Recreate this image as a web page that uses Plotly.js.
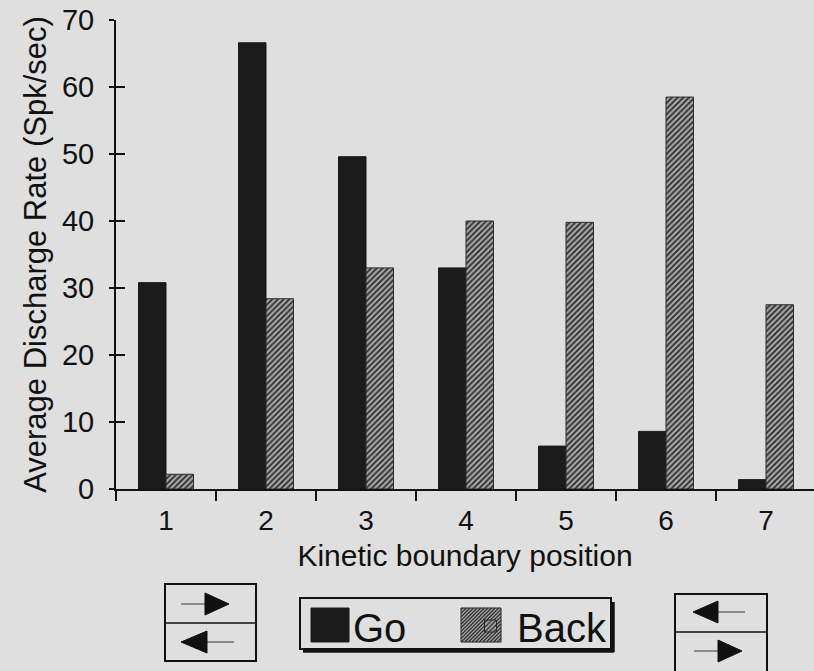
<!DOCTYPE html>
<html><head><meta charset="utf-8">
<script src="https://cdn.plot.ly/plotly-3.0.1.min.js"></script>
<style>html,body{margin:0;padding:0;background:#dfdfdf;}#chart{width:814px;height:671px;}</style>
</head><body><div id="chart"></div>
<script>
const positions = ['1','2','3','4','5','6','7'];
const goValues = [30.8, 66.6, 49.6, 33.0, 6.4, 8.6, 1.4];
const backValues = [2.2, 28.4, 33.0, 40.0, 39.8, 58.5, 27.5];
const seriesNames = ['Go', 'Back'];
const yTicks = [0, 10, 20, 30, 40, 50, 60, 70];

const W = 814, H = 671, ML = 116, MR = 0, MT = 20, MB = 182;
const PW = W - ML - MR, PH = H - MT - MB;
const X = px => (px - ML) / PW;
const Y = py => (H - MB - py) / PH;

const FONT = 'Liberation Sans, Arial, sans-serif';
const GO_COLOR = '#1b1b1b';

const traces = [
  { type: 'bar', name: seriesNames[0], x: positions, y: goValues,
    marker: { color: GO_COLOR, line: { color: GO_COLOR, width: 1 } } },
  { type: 'bar', name: seriesNames[1], x: positions, y: backValues,
    marker: { color: '#8a8a8a', line: { color: '#2a2a2a', width: 1 },
      pattern: { shape: '/', fgcolor: '#2a2a2a', bgcolor: '#a8a8a8', size: 4, solidity: 0.45 } } },
  { type: 'scatter', x: [], y: [], yaxis: 'y2', showlegend: false, hoverinfo: 'skip' }
];

function tri(x1, x2, yc, h, dir) {
  const tip = dir > 0 ? x2 : x1, base = dir > 0 ? x1 : x2;
  return `M${X(base)},${Y(yc - h/2)} L${X(tip)},${Y(yc)} L${X(base)},${Y(yc + h/2)} Z`;
}
function rect(x0, y0, x1, y1, w, fill, lc) {
  return { type: 'rect', xref: 'paper', yref: 'paper', x0: X(x0), x1: X(x1), y0: Y(y1), y1: Y(y0),
    line: { color: lc || '#111', width: w }, fillcolor: fill || 'rgba(0,0,0,0)' };
}
function line(x0, y0, x1, y1, w, c) {
  return { type: 'line', xref: 'paper', yref: 'paper', x0: X(x0), x1: X(x1), y0: Y(y0), y1: Y(y1),
    line: { color: c || '#111', width: w } };
}
function path(d) {
  return { type: 'path', xref: 'paper', yref: 'paper', path: d, fillcolor: '#111', line: { color: '#111', width: 1 } };
}
function hatch(x0, y0, x1, y1, step) {
  let d = '';
  for (let c = x0 + y0 + step / 2; c < x1 + y1; c += step) {
    const xa = Math.max(x0, c - y1), xb = Math.min(x1, c - y0);
    if (xb <= xa) continue;
    d += `M${X(xa)},${Y(c - xa)} L${X(xb)},${Y(c - xb)} `;
  }
  return { type: 'path', xref: 'paper', yref: 'paper', path: d, line: { color: '#333', width: 1.3 } };
}

const shapes = [
  // left direction box
  rect(165, 584, 256, 661, 2),
  line(165, 623, 256, 623, 1.5),
  line(181, 604, 205, 604, 1.2, '#555'),
  path(tri(205, 229, 604, 22, 1)),
  line(207, 642, 234, 642, 1.2, '#555'),
  path(tri(181, 207, 642, 22, -1)),
  // right direction box
  rect(675, 594, 767, 672, 2),
  line(675, 632, 767, 632, 1.5),
  line(718, 612, 745, 612, 1.2, '#555'),
  path(tri(693, 718, 612, 22, -1)),
  line(694, 651, 718, 651, 1.2, '#555'),
  path(tri(718, 742, 651, 22, 1)),
  // legend frame with drop shadow
  line(303, 651, 614, 651, 3.5),
  line(613, 602, 613, 652, 3.5),
  rect(300, 598, 611, 649, 2),
  // enlarged legend keys
  rect(311, 608, 349, 642, 1, GO_COLOR, GO_COLOR),
  rect(461, 608, 501, 642, 1, '#a6a6a6', '#222'),
  hatch(461, 608, 501, 642, 3.6)
];

const layout = {
  width: W, height: H,
  margin: { l: ML, r: MR, t: MT, b: MB, pad: 0 },
  paper_bgcolor: '#dfdfdf', plot_bgcolor: '#dfdfdf',
  font: { family: FONT, color: '#111' },
  barmode: 'group', bargap: 0.45, bargroupgap: 0,
  showlegend: true,
  legend: { orientation: 'h', x: X(300), y: Y(626), xanchor: 'left', yanchor: 'middle',
    bgcolor: 'rgba(0,0,0,0)', borderwidth: 0, entrywidth: 106, entrywidthmode: 'pixels',
    font: { family: FONT, size: 40, color: '#111' }, itemwidth: 43, traceorder: 'normal' },
  xaxis: { type: 'category', range: [-0.5, 6.48], tickson: 'boundaries', ticks: 'outside', ticklen: 10,
    tickwidth: 1.5, tickcolor: '#111', showline: true, linecolor: '#111', linewidth: 2,
    showgrid: false, zeroline: false, tickfont: { family: FONT, size: 28, color: '#111' },
    ticklabelstandoff: 5,
    title: { text: 'Kinetic boundary position', font: { family: FONT, size: 30, color: '#111' }, standoff: 10 },
    fixedrange: true },
  yaxis: { range: [0, 70], tickvals: yTicks, ticks: 'outside', ticklen: 5, tickwidth: 1.5, tickcolor: '#111',
    showline: true, linecolor: '#111', linewidth: 2, showgrid: false, zeroline: false,
    tickfont: { family: FONT, size: 29, color: '#111' }, ticklabelstandoff: 9,
    title: { text: 'Average Discharge Rate (Spk/sec)', font: { family: FONT, size: 31, color: '#111' }, standoff: 6 },
    fixedrange: true },
  yaxis2: { overlaying: 'y', range: [0, 70], tickvals: yTicks, ticks: 'inside', ticklen: 9, tickwidth: 1.5,
    tickcolor: '#111', showticklabels: false, showline: false, showgrid: false, zeroline: false, side: 'left' },
  shapes: shapes
};

Plotly.newPlot('chart', traces, layout, { displayModeBar: false, staticPlot: true });
</script>
</body></html>
